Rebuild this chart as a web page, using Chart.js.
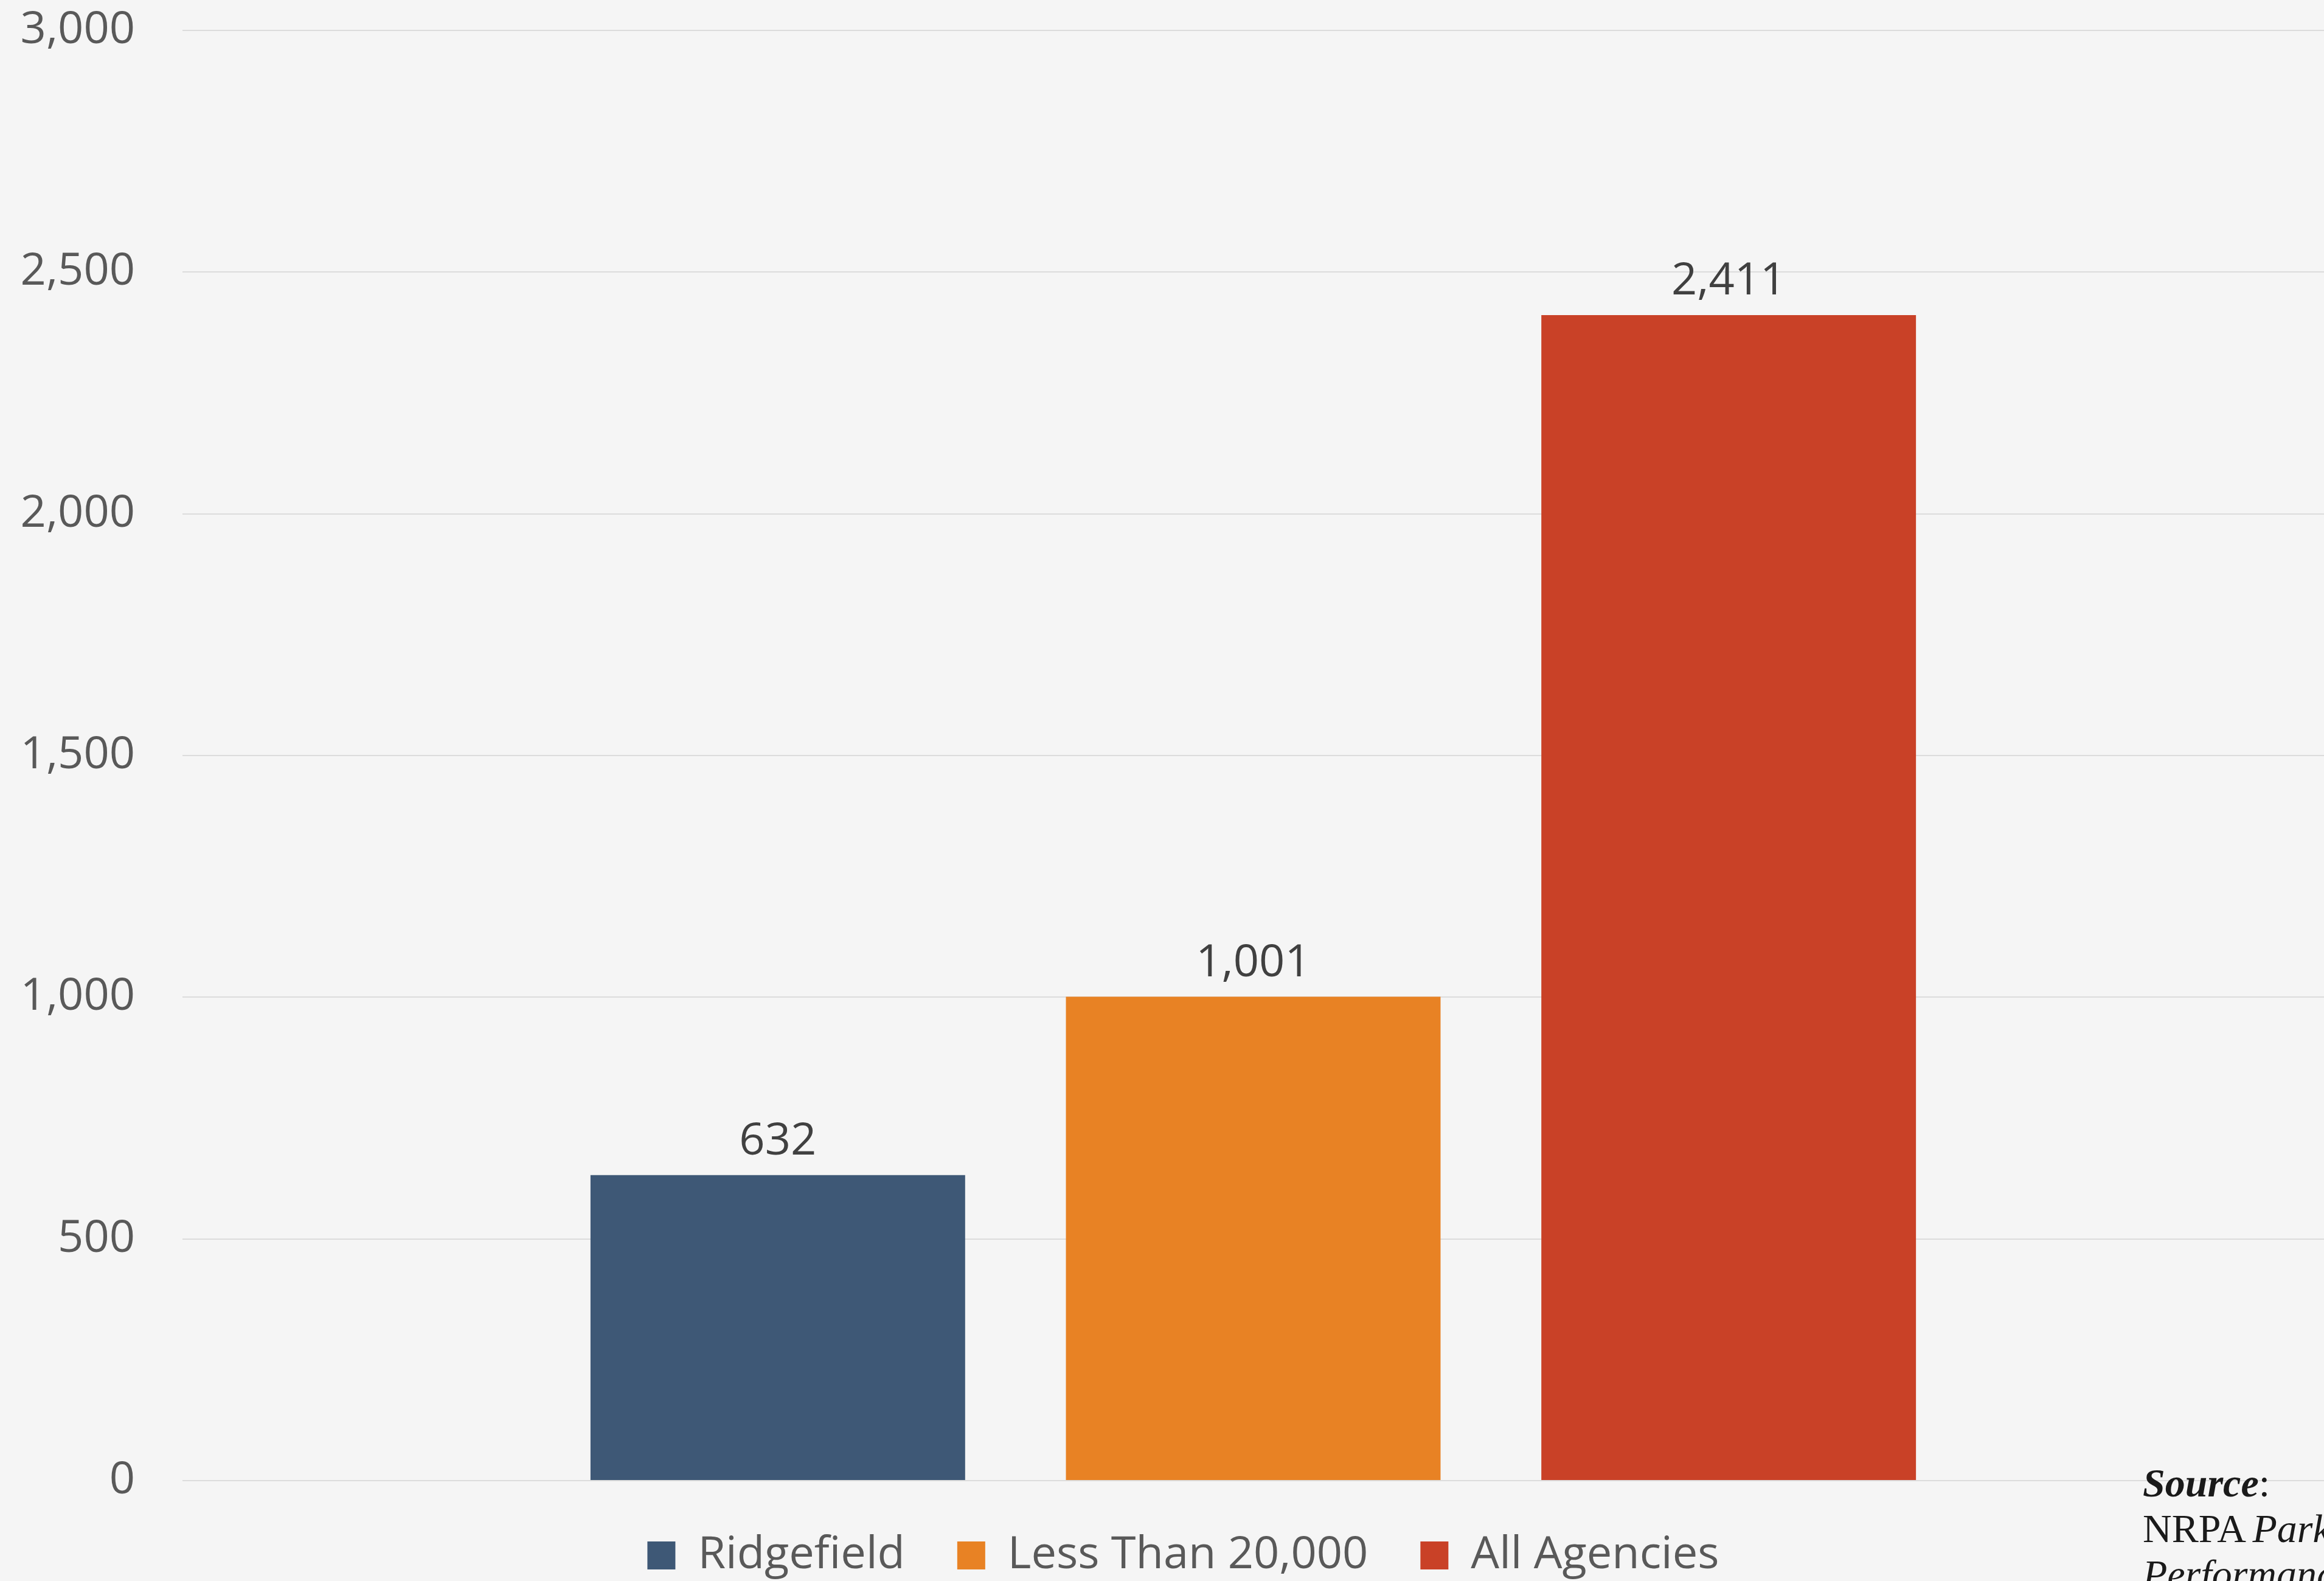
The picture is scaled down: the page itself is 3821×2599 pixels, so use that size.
<!DOCTYPE html>
<html>
<head>
<meta charset="utf-8">
<script src="https://cdn.jsdelivr.net/npm/chart.js@4"></script>
<style>
    html, body { margin: 0; padding: 0; background: #f5f5f5; }
    canvas { display: block; }
</style>
</head>
<body>
<canvas id="grafico" width="3821" height="2599"></canvas>
<script>
// datos
var categorias = ['Ridgefield', 'Less Than 20,000', 'All Agencies'];
var valores = [632, 1001, 2411];
var colores = ['#3e5876', '#e88224', '#c94127'];
var yMin = 0;
var yMax = 3000;
var yPaso = 500;

var fuente = ['Source', 'NRPA ', 'Park', 'Performance'];

// etiquetas de valor encima de cada barra
var etiquetasValor = {
    id: 'etiquetasValor',
    afterDatasetsDraw: function (chart) {
        var ctx = chart.ctx;
        ctx.save();
        ctx.font = '74px "Open Sans"';
        ctx.fillStyle = '#404040';
        ctx.textAlign = 'center';
        ctx.textBaseline = 'alphabetic';
        chart.data.datasets.forEach(function (ds, i) {
            var meta = chart.getDatasetMeta(i);
            meta.data.forEach(function (bar, j) {
                ctx.fillText(ds.data[j].toLocaleString('en-US'), bar.x, bar.y - 34);
            });
        });
        ctx.restore();
    }
};

// la leyenda va un poco a la derecha del centro
var moverLeyenda = {
    id: 'moverLeyenda',
    afterLayout: function (chart) {
        if (chart.legend) {
            chart.legend.left += 30;
            chart.legend.right += 30;
        }
    }
};

// nota de fuente abajo a la derecha (cortada por el borde)
var notaFuente = {
    id: 'notaFuente',
    afterDraw: function (chart) {
        var ctx = chart.ctx;
        var x = 3523;
        ctx.save();
        ctx.fillStyle = '#1a1a1a';
        ctx.textAlign = 'left';
        ctx.textBaseline = 'alphabetic';
        ctx.font = 'italic bold 66px "Liberation Serif"';
        ctx.fillText(fuente[0], x, 2460);
        var w = ctx.measureText(fuente[0]).width;
        ctx.font = '66px "Liberation Serif"';
        ctx.fillText(':', x + w, 2460);
        ctx.fillText(fuente[1], x, 2535);
        var w2 = ctx.measureText(fuente[1]).width;
        ctx.font = 'italic 66px "Liberation Serif"';
        ctx.fillText(fuente[2], x + w2 - 6, 2535);
        ctx.fillText(fuente[3], x, 2610);
        ctx.restore();
    }
};

var datasets = categorias.map(function (nombre, i) {
    return {
        label: nombre,
        data: [valores[i]],
        backgroundColor: colores[i],
        borderWidth: 0,
        barPercentage: 0.788,
        categoryPercentage: 0.666
    };
});

Chart.defaults.font.family = '"Open Sans"';

new Chart(document.getElementById('grafico'), {
    type: 'bar',
    data: {
        labels: [''],
        datasets: datasets
    },
    options: {
        responsive: false,
        animation: false,
        layout: {
            padding: { top: 50, left: 0, right: -10, bottom: 0 }
        },
        scales: {
            x: {
                display: false
            },
            y: {
                min: yMin,
                max: yMax,
                ticks: {
                    stepSize: yPaso,
                    color: '#595959',
                    padding: 78,
                    font: { size: 74 }
                },
                grid: {
                    color: '#dcdcdc',
                    lineWidth: 2,
                    drawTicks: false
                },
                border: { display: false },
                afterFit: function (scale) {
                    scale.width = 300;
                    scale.paddingTop = 0;
                    scale.paddingBottom = 0;
                }
            }
        },
        plugins: {
            legend: {
                display: true,
                position: 'bottom',
                maxHeight: 165,
                labels: {
                    boxWidth: 46,
                    boxHeight: 46,
                    padding: 86,
                    color: '#595959',
                    font: { size: 74 }
                }
            },
            tooltip: { enabled: false }
        }
    },
    plugins: [etiquetasValor, moverLeyenda, notaFuente]
});
</script>
</body>
</html>
